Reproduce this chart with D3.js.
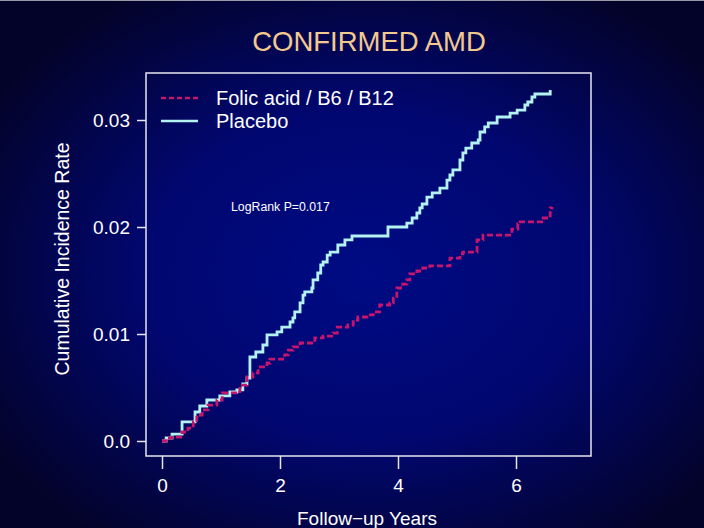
<!DOCTYPE html>
<html><head><meta charset="utf-8">
<script src="https://cdn.jsdelivr.net/npm/d3@7"></script>
<style>html,body{margin:0;padding:0;background:#02022e;}svg{display:block;}</style>
</head><body>
<svg id="c" width="704" height="528"></svg>
<script>
// ---- data ----
const title = "CONFIRMED AMD";
const xLabel = "Follow\u2212up Years";
const yLabel = "Cumulative Incidence Rate";
const xTicks = [0, 2, 4, 6];
const yTicks = [0.0, 0.01, 0.02, 0.03];
const yTickLabels = ["0.0", "0.01", "0.02", "0.03"];
const seriesNames = ["Folic acid / B6 / B12", "Placebo"];
const annotation = "LogRank P=0.017";
// step times (years) and cumulative incidence after each step
const placeboT = [0,0.07,0.17,0.34,0.56,0.64,0.76,0.98,1.15,1.27,1.37,1.44,1.49,1.59,1.71,1.78,1.95,2.03,2.17,2.22,2.25,2.34,2.39,2.42,2.54,2.56,2.64,2.69,2.73,2.80,2.85,2.98,3.10,3.22,3.83,4.15,4.24,4.32,4.37,4.41,4.49,4.58,4.71,4.83,4.88,4.93,5.05,5.10,5.15,5.25,5.36,5.39,5.47,5.53,5.68,5.90,6.02,6.15,6.20,6.27,6.32,6.58];
const placeboV = [0,0.00028,0.00065,0.00178,0.00271,0.00327,0.00383,0.00421,0.00458,0.00477,0.00533,0.00589,0.00785,0.00832,0.00897,0.00991,0.01019,0.01065,0.01112,0.01150,0.01206,0.01290,0.01364,0.01393,0.01430,0.01505,0.01570,0.01645,0.01673,0.01738,0.01766,0.01832,0.01879,0.01916,0.02000,0.02037,0.02084,0.02131,0.02178,0.02215,0.02280,0.02318,0.02364,0.02439,0.02486,0.02533,0.02626,0.02692,0.02738,0.02785,0.02813,0.02888,0.02935,0.02972,0.03028,0.03065,0.03093,0.03140,0.03168,0.03215,0.03243,0.03280];
const folicT = [0,0.07,0.17,0.34,0.44,0.53,0.59,0.68,0.78,0.93,1.02,1.32,1.44,1.54,1.63,1.78,1.83,2.08,2.14,2.22,2.34,2.59,2.73,2.90,2.97,3.15,3.24,3.32,3.47,3.58,3.69,3.86,3.92,3.98,4.08,4.15,4.20,4.32,4.42,4.54,4.88,5.05,5.10,5.34,5.44,5.93,6.03,6.07,6.46,6.58,6.61];
const folicV = [0,0.00028,0.00037,0.00084,0.00121,0.00178,0.00243,0.00290,0.00336,0.00383,0.00449,0.00523,0.00598,0.00636,0.00692,0.00729,0.00766,0.00804,0.00850,0.00879,0.00916,0.00963,0.00981,0.01009,0.01065,0.01084,0.01131,0.01159,0.01178,0.01206,0.01271,0.01290,0.01336,0.01430,0.01467,0.01505,0.01561,0.01589,0.01617,0.01636,0.01710,0.01748,0.01766,0.01879,0.01925,0.01981,0.02028,0.02047,0.02084,0.02178,0.02187];

// ---- layout ----
const svg = d3.select("#c");
const W = 704, H = 528;
const box = {l:146, r:591, t:73, b:456};
const x = d3.scaleLinear().domain([0, 6]).range([162, 516]);
const y = d3.scaleLinear().domain([0, 0.03]).range([441, 120]);

const defs = svg.append("defs");
const rg = defs.append("radialGradient").attr("id","bg")
  .attr("cx","52%").attr("cy","52%").attr("r","62%");
rg.append("stop").attr("offset","0%").attr("stop-color","#000b84");
rg.append("stop").attr("offset","50%").attr("stop-color","#010770");
rg.append("stop").attr("offset","100%").attr("stop-color","#03032a");
svg.append("rect").attr("width",W).attr("height",H).attr("fill","url(#bg)");
svg.append("line").attr("x1",0).attr("x2",W).attr("y1",0.5).attr("y2",0.5).attr("stroke","#9a9aa8").attr("stroke-width",1);

const font = "'Liberation Sans', Arial, sans-serif";
const axisCol = "#e6e6f0";

svg.append("text").attr("x",369).attr("y",51).attr("text-anchor","middle")
  .attr("font-family",font).attr("font-size",27.5).attr("fill","#f2c98e").text(title);

// plot box
svg.append("rect").attr("x",box.l).attr("y",box.t).attr("width",box.r-box.l).attr("height",box.b-box.t)
  .attr("fill","none").attr("stroke",axisCol).attr("stroke-width",1.5);

// x axis
const xa = svg.append("g").attr("transform",`translate(0,${box.b})`)
  .call(d3.axisBottom(x).tickValues(xTicks).tickSize(13).tickPadding(10).tickFormat(d3.format("d")));
xa.select(".domain").remove();
xa.selectAll("line").attr("stroke",axisCol).attr("stroke-width",1.5);
xa.selectAll("text").attr("fill","#ffffff").attr("font-family",font).attr("font-size",19);

// y axis
const ya = svg.append("g").attr("transform",`translate(${box.l},0)`)
  .call(d3.axisLeft(y).tickValues(yTicks).tickSize(9).tickPadding(7).tickFormat((d,i)=>yTickLabels[i]));
ya.select(".domain").remove();
ya.selectAll("line").attr("stroke",axisCol).attr("stroke-width",1.5);
ya.selectAll("text").attr("fill","#ffffff").attr("font-family",font).attr("font-size",19);

svg.append("text").attr("x",367).attr("y",525).attr("text-anchor","middle")
  .attr("font-family",font).attr("font-size",19).attr("fill","#ffffff").text(xLabel);
svg.append("text").attr("transform","translate(69,259) rotate(-90)").attr("text-anchor","middle")
  .attr("font-family",font).attr("font-size",19.5).attr("fill","#ffffff").text(yLabel);

// curves
const line = d3.line().x(d=>x(d[0])).y(d=>y(d[1])).curve(d3.curveStepAfter);
const placebo = placeboT.map((t,i)=>[t, placeboV[i]]);
const folic = folicT.map((t,i)=>[t, folicV[i]]);
const placeboCol = "#b4f2f2", folicCol = "#c8146e";
svg.append("path").datum(placebo).attr("d",line).attr("fill","none")
  .attr("stroke",placeboCol).attr("stroke-width",2.8);
svg.append("path").datum(folic).attr("d",line).attr("fill","none")
  .attr("stroke",folicCol).attr("stroke-width",2.8).attr("stroke-dasharray","6,3");

// legend
const leg = [{n:seriesNames[0], c:folicCol, dash:"5,3", yy:98},{n:seriesNames[1], c:placeboCol, dash:null, yy:121}];
leg.forEach(d=>{
  svg.append("line").attr("x1",161).attr("x2",198).attr("y1",d.yy).attr("y2",d.yy)
    .attr("stroke",d.c).attr("stroke-width",2.6).attr("stroke-dasharray",d.dash);
  svg.append("text").attr("x",216).attr("y",d.yy+7).attr("font-family",font).attr("font-size",20)
    .attr("fill","#ffffff").text(d.n);
});
svg.append("text").attr("x",231).attr("y",211).attr("font-family",font).attr("font-size",12.3)
  .attr("fill","#ffffff").text(annotation);
</script>
</body></html>
